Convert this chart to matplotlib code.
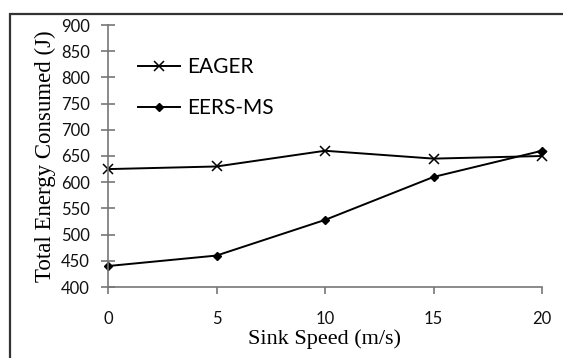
import matplotlib
matplotlib.use("Agg")
import matplotlib.pyplot as plt
from matplotlib.patches import Rectangle

speeds = [0, 5, 10, 15, 20]
eager = [625, 630, 660, 645, 650]
eers_ms = [440, 460, 528, 610, 660]
yticks = [400, 450, 500, 550, 600, 650, 700, 750, 800, 850, 900]

fig = plt.figure(figsize=(5.63, 3.58), dpi=100)
fig.patches.append(Rectangle((10/563, -0.1), 1.2, 1 - 14/358 + 0.1, transform=fig.transFigure,
                             fill=False, edgecolor='#333333', linewidth=1.6))
ax = fig.add_axes([108/563, 1 - 287/358, (542-108)/563, (287-25)/358])

ax.plot(speeds, eager, color='black', lw=1.4, marker='x', ms=7, mew=1.1, label='EAGER', clip_on=False)
ax.plot(speeds, eers_ms, color='black', lw=1.4, marker='D', ms=4.5, label='EERS-MS', clip_on=False)

ax.set_xlim(0, 20)
ax.set_ylim(400, 900)
ax.set_xticks(speeds)
ax.set_yticks(yticks)
for s in ['top', 'right']:
    ax.spines[s].set_visible(False)
for s in ['left', 'bottom']:
    ax.spines[s].set_color('#777777')
    ax.spines[s].set_linewidth(1.2)
ax.tick_params(axis='y', direction='inout', length=10, width=1.2, color='#777777', pad=8)
ax.tick_params(axis='x', direction='out', length=5, width=1.2, color='#777777', pad=12)
for lab in ax.get_xticklabels() + ax.get_yticklabels():
    lab.set_fontfamily('Lato')
    lab.set_fontsize(12)
    lab.set_color('#111111')

ax.set_xlabel('Sink Speed (m/s)', fontfamily='Liberation Serif', fontsize=16, labelpad=2)
ax.set_ylabel('Total Energy Consumed (J)', fontfamily='Liberation Serif', fontsize=16.5, labelpad=4)

ax.legend(loc='upper left', bbox_to_anchor=(0.069, 0.877), frameon=False,
          borderpad=0, borderaxespad=0,
          prop={'family': 'Lato', 'size': 15}, handlelength=2.0, labelspacing=1.0, handletextpad=0.35)

fig.savefig('out.png', dpi=100)
